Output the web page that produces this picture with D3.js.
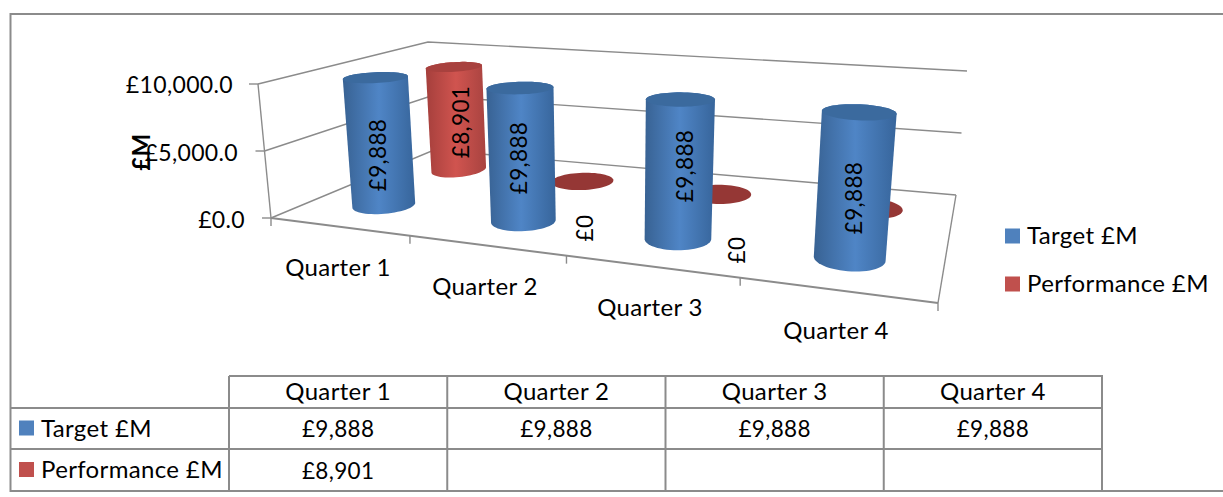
<!DOCTYPE html>
<html><head><meta charset="utf-8">
<script src="https://cdn.jsdelivr.net/npm/d3@7"></script>
<style>html,body{margin:0;padding:0;background:#fff}svg{display:block}text{font-family:Lato,"Noto Sans",sans-serif;fill:#000;letter-spacing:.35px}</style>
</head><body><svg id="c" width="1223" height="497"></svg>
<script>
const categories = ["Quarter 1","Quarter 2","Quarter 3","Quarter 4"];
const targetValues = [9888,9888,9888,9888];
const performanceValues = [8901,0,0,0];
const performanceTable = ["£8,901","","",""];
const valueTicks = [0,5000,10000];
const seriesNames = ["Target £M","Performance £M"];

const svg = d3.select("#c");
const GREY="#8b8b8b";
const fmtTick = v=>"£"+d3.format(",.1f")(v);
const fmtLabel = v=>"£"+d3.format(",")(v);

// projection: floor and ceiling quads of the 3-D box
function quadMap(p0,p1,p2,p3){
  const dx1=p1[0]-p2[0],dx2=p3[0]-p2[0],sx=p0[0]-p1[0]+p2[0]-p3[0];
  const dy1=p1[1]-p2[1],dy2=p3[1]-p2[1],sy=p0[1]-p1[1]+p2[1]-p3[1];
  const den=dx1*dy2-dx2*dy1;
  const g=(sx*dy2-dx2*sy)/den,h=(dx1*sy-sx*dy1)/den;
  const a=p1[0]-p0[0]+g*p1[0],b=p3[0]-p0[0]+h*p3[0];
  const d=p1[1]-p0[1]+g*p1[1],e=p3[1]-p0[1]+h*p3[1];
  return (s,t)=>{const w=1+g*s+h*t;return [(p0[0]+a*s+b*t)/w,(p0[1]+d*s+e*t)/w];};
}
const floorQ=quadMap([271,218],[938,303],[956,195],[434,150]);
const ceilQ =quadMap([258,84],[953,139],[967,71],[428,42]);
const xS=d3.scaleLinear().domain([0,1,2,3,4]).range([0,.26,.515,.76,1]);
const vS=d3.scaleLinear().domain([0,10000]).range([0,1]);
function P(u,t,v){
  const a=floorQ(xS(u),t),b=ceilQ(xS(u),t),k=vS(v);
  return [a[0]+(b[0]-a[0])*k,a[1]+(b[1]-a[1])*k];
}
const line=d3.line();

// gradients
const defs=svg.append("defs");
function grad(id,e,m,r){const g=defs.append("linearGradient").attr("id",id);
  g.append("stop").attr("offset","0").attr("stop-color",e);
  g.append("stop").attr("offset",".5").attr("stop-color",m);
  g.append("stop").attr("offset","1").attr("stop-color",r);}
grad("gb","#386293","#4f85c6","#37659b");
grad("gr","#a53f3c","#d0544f","#a84340");

// frame
const gF=svg.append("g").attr("fill","none").attr("stroke",GREY).attr("stroke-width",2);
gF.append("path").attr("d","M1223,14H10.5V491H1223");

// walls and gridlines
const gW=svg.append("g").attr("fill","none").attr("stroke",GREY).attr("stroke-width",1.4);
gW.selectAll(".grid").data(valueTicks).join("path")
  .attr("d",v=>line([P(0,0,v),P(0,1,v),P(4,1,v)]));
gW.selectAll(".tk").data(valueTicks).join("path")
  .attr("d",v=>{const p=P(0,0,v);return line([[p[0]-9,p[1]],p]);});
gW.append("path").attr("d",line([P(0,0,0),P(0,0,10000)]));
gW.append("path").attr("stroke-width",2).attr("d",line([P(0,0,0),P(4,0,0)]));
gW.append("path").attr("d",line([P(4,0,0),P(4,1,0)]));
gW.selectAll(".ct").data(d3.range(5)).join("path")
  .attr("d",i=>{const p=P(i,0,0);return line([p,[p[0],p[1]+8]]);});

// y axis labels
const FS=24, FN=22.5;
const tickEnd=[245,238,233], tickY=[228,161,93];
svg.selectAll(".yl").data(valueTicks).join("text")
  .attr("x",(d,i)=>tickEnd[i]).attr("y",(d,i)=>tickY[i]).attr("text-anchor","end")
  .attr("font-size",FN+.5).text(fmtTick);
svg.append("text").attr("transform","translate(150,152) rotate(-90)").attr("text-anchor","middle")
  .attr("font-size",24).attr("font-weight","bold").text("£M");

// cylinders
const angles=d3.range(0,360,6).map(a=>a*Math.PI/180);
function drawCyl(u,t,v,g,cap,ru,rd){
  const b=angles.map(a=>P(u+ru*Math.cos(a),t+rd*Math.sin(a),0));
  const c=angles.map(a=>P(u+ru*Math.cos(a),t+rd*Math.sin(a),v));
  if(v>0) svg.append("path").attr("d","M"+d3.polygonHull(b.concat(c)).join("L")+"Z").attr("fill",`url(#${g})`);
  svg.append("path").attr("d","M"+c.join("L")+"Z").attr("fill",cap);
}
const dB=.25,dR=.75;
performanceValues.forEach((v,i)=> v>0
  ? drawCyl(i+.5,dR,v,"gr","#a8413e",.185,.12)
  : drawCyl(i+.48,dR,v,"gr","#953735",.215,.12));
targetValues.forEach((v,i)=>drawCyl(i+.5,dB,v,"gb","#3b6a9e",.195,.105));

// data labels
const targetLabelPos=[[378,155],[519,158],[685,166],[854,198]];
svg.selectAll(".dl").data(targetValues).join("text")
  .attr("transform",(d,i)=>`translate(${targetLabelPos[i][0]+8},${targetLabelPos[i][1]}) rotate(-90)`)
  .attr("text-anchor","middle").attr("font-size",FN).text(fmtLabel);
const perfLabelPos=[[461,122],[585,228],[737,250]];
svg.selectAll(".dp").data(performanceValues.slice(0,3)).join("text")
  .attr("transform",(d,i)=>`translate(${perfLabelPos[i][0]+8},${perfLabelPos[i][1]}) rotate(-90)`)
  .attr("text-anchor","middle").attr("font-size",FN).text(fmtLabel);

// category labels
const catPos=[[338,276],[485,295],[650,316],[836,339]];
svg.selectAll(".cl").data(categories).join("text")
  .attr("x",(d,i)=>catPos[i][0]).attr("y",(d,i)=>catPos[i][1]).attr("text-anchor","middle")
  .attr("font-size",FS).text(d=>d);

// legend
const colors=["#4f81bd","#c0504d"];
const legY=[236,284];
seriesNames.forEach((s,i)=>{
  svg.append("rect").attr("x",1005).attr("y",legY[i]-7.5).attr("width",15).attr("height",15).attr("fill",colors[i]);
  svg.append("text").attr("x",1027).attr("y",legY[i]+8).attr("font-size",FS).text(s);
});

// data table
const colX=d3.scaleBand().domain(categories).range([229,1102]);
const rowY=[376,408,449,491];
const gT=svg.append("g").attr("fill","none").attr("stroke",GREY).attr("stroke-width",2);
gT.append("path").attr("d",`M229,${rowY[0]}H1102V${rowY[3]}`);
gT.append("path").attr("d",`M10,${rowY[1]}H1102M10,${rowY[2]}H1102`);
gT.selectAll(".v").data(categories).join("path").attr("d",c=>`M${colX(c)},${rowY[0]}V${rowY[3]}`);
categories.forEach((c,i)=>{
  const cx=colX(c)+colX.bandwidth()/2;
  svg.append("text").attr("x",cx).attr("y",rowY[0]+24).attr("text-anchor","middle").attr("font-size",FS).text(c);
  svg.append("text").attr("x",cx).attr("y",rowY[1]+29).attr("text-anchor","middle").attr("font-size",FN).text(fmtLabel(targetValues[i]));
  if(performanceTable[i]) svg.append("text").attr("x",cx).attr("y",rowY[2]+30).attr("text-anchor","middle").attr("font-size",FN).text(performanceTable[i]);
});
seriesNames.forEach((s,i)=>{
  const y=(rowY[i+1]+rowY[i+2])/2;
  svg.append("rect").attr("x",19).attr("y",y-8).attr("width",15).attr("height",15).attr("fill",colors[i]);
  svg.append("text").attr("x",41).attr("y",y+8).attr("font-size",FS).text(s);
});
</script></body></html>
